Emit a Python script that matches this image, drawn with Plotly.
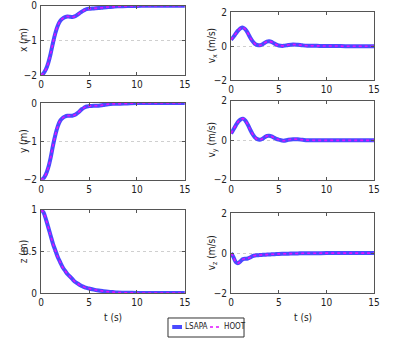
import plotly.graph_objects as go

# time samples (s)
t = [0, 0.25, 0.5, 0.75, 1.0, 1.25, 1.5, 1.75, 2.0, 2.25, 2.5, 2.75, 3.0, 3.25, 3.5, 3.75,
     4.0, 4.25, 4.5, 4.75, 5.0, 5.5, 6.0, 6.5, 7.0, 7.5, 8.0, 9.0, 10.0, 11.0, 12.0, 13.0, 14.0, 15.0]

pos_x = [-2.0, -1.95, -1.84, -1.65, -1.38, -1.06, -0.78, -0.57, -0.44, -0.37, -0.33, -0.31, -0.32, -0.33,
         -0.31, -0.27, -0.22, -0.17, -0.13, -0.10, -0.09, -0.08, -0.07, -0.05, -0.04, -0.03, -0.02,
         -0.01, -0.01, 0.0, 0.0, 0.0, 0.0, 0.0]
pos_y = [-2.0, -1.96, -1.86, -1.68, -1.42, -1.10, -0.82, -0.60, -0.46, -0.39, -0.35, -0.33, -0.33, -0.33,
         -0.31, -0.27, -0.22, -0.16, -0.12, -0.09, -0.08, -0.07, -0.07, -0.05, -0.03, -0.02, -0.02,
         -0.01, 0.0, 0.0, 0.0, 0.0, 0.0, 0.0]
pos_z = [1.0, 0.97, 0.89, 0.79, 0.69, 0.59, 0.51, 0.43, 0.37, 0.31, 0.27, 0.23, 0.20, 0.17, 0.14,
         0.12, 0.10, 0.085, 0.072, 0.062, 0.055, 0.042, 0.032, 0.024, 0.017, 0.012, 0.008, 0.004,
         0.002, 0.0, 0.0, 0.0, 0.0, 0.0]
vel_x = [0.38, 0.55, 0.75, 0.93, 1.06, 1.1, 1.0, 0.78, 0.52, 0.30, 0.14, 0.07, 0.05, 0.10, 0.19,
         0.27, 0.29, 0.25, 0.17, 0.09, 0.04, 0.02, 0.07, 0.10, 0.08, 0.05, 0.03, 0.02, 0.01, 0.01,
         0.0, 0.0, 0.0, 0.0]
vel_y = [0.35, 0.55, 0.76, 0.95, 1.06, 1.1, 1.0, 0.8, 0.55, 0.32, 0.15, 0.06, 0.03, 0.07, 0.15,
         0.22, 0.23, 0.2, 0.14, 0.08, 0.04, -0.02, 0.03, 0.06, 0.05, 0.03, 0.01, 0.0, 0.0, 0.0,
         0.0, 0.0, 0.0, 0.0]
vel_z = [0.0, -0.2, -0.45, -0.5, -0.4, -0.3, -0.28, -0.27, -0.22, -0.15, -0.12, -0.11, -0.10, -0.09,
         -0.08, -0.075, -0.07, -0.06, -0.055, -0.05, -0.04, -0.035, -0.03, -0.02, -0.015, -0.01,
         -0.01, -0.005, 0.0, 0.0, 0.0, 0.0, 0.0, 0.0]

series_names = ["LSAPA", "HOOT"]

panels = [
    # series, ylabel, yrange, ticks, x domain, y domain
    (pos_x, "x (m)", [-2, 0], [-2, -1, 0], [0.104, 0.468], [0.788, 0.984]),
    (vel_x, "v<sub>x</sub> (m/s)", [-2, 2], [-2, 0, 2], [0.585, 0.947], [0.774, 0.965]),
    (pos_y, "y (m)", [-2, 0], [-2, -1, 0], [0.104, 0.468], [0.492, 0.709]),
    (vel_y, "v<sub>y</sub> (m/s)", [-2, 2], [-2, 0, 2], [0.585, 0.947], [0.492, 0.715]),
    (pos_z, "z (m)", [0, 1], [0, 0.5, 1], [0.104, 0.468], [0.172, 0.407]),
    (vel_z, "v<sub>z</sub> (m/s)", [-2, 2], [-2, 0, 2], [0.585, 0.947], [0.172, 0.398]),
]

FONT = "Liberation Sans Narrow, DejaVu Sans Condensed, Arial Narrow, sans-serif"
BLUE = "#4a4aff"
MAGENTA = "#e010ff"
fig = go.Figure()
layout = {}

for i, (vals, label, yr, yt, xd, yd) in enumerate(panels):
    n = i + 1
    xa = "x" if n == 1 else f"x{n}"
    ya = "y" if n == 1 else f"y{n}"
    fig.add_trace(go.Scatter(x=t, y=vals, xaxis=xa, yaxis=ya, mode="lines",
                             line=dict(color=BLUE, width=4, shape="spline"),
                             name=series_names[0], showlegend=False))
    fig.add_trace(go.Scatter(x=t, y=vals, xaxis=xa, yaxis=ya, mode="lines",
                             line=dict(color=MAGENTA, width=1.6, dash="dot", shape="spline"),
                             name=series_names[1], showlegend=False))
    common = dict(showline=True, linecolor="#555", linewidth=1, mirror="ticks",
                  ticks="inside", ticklen=3, tickcolor="#555", zeroline=False,
                  automargin=False, ticklabeloverflow="allow",
                  tickfont=dict(size=10, family=FONT, color="#222"))
    layout["xaxis" if n == 1 else f"xaxis{n}"] = dict(
        domain=xd, anchor=ya, range=[0, 15], tickvals=[0, 5, 10, 15],
        showgrid=False, **common)
    layout["yaxis" if n == 1 else f"yaxis{n}"] = dict(
        domain=yd, anchor=xa, range=yr, tickvals=yt, showgrid=True,
        gridcolor="#cfcfcf", griddash="dot", gridwidth=1, ticklabelstandoff=1, **common)
    fig.add_annotation(text=label, xref="paper", yref="paper",
                       x=0.06 if n % 2 else 0.537, y=(yd[0] + yd[1]) / 2,
                       xanchor="center", yanchor="middle", textangle=-90, showarrow=False,
                       font=dict(size=10, family=FONT, color="#222"))
    if n >= 5:
        fig.add_annotation(text="t (s)", xref="paper", yref="paper",
                           x=(xd[0] + xd[1]) / 2, y=0.103, xanchor="center",
                           yanchor="middle", showarrow=False,
                           font=dict(size=10, family=FONT, color="#222"))

# legend box drawn in paper space
fig.add_shape(type="rect", xref="paper", yref="paper", x0=0.4253, x1=0.6178, y0=0.048, y1=0.1017,
              line=dict(color="#333", width=1), fillcolor="white")
fig.add_shape(type="line", xref="paper", yref="paper", x0=0.436, x1=0.4608, y0=0.0763, y1=0.0763,
              line=dict(color=BLUE, width=4))
fig.add_shape(type="line", xref="paper", yref="paper", x0=0.5316, x1=0.5595, y0=0.0763, y1=0.0763,
              line=dict(color=MAGENTA, width=1.6, dash="dot"))
for name, lx in zip(series_names, [0.4633, 0.5608]):
    fig.add_annotation(text=name, xref="paper", yref="paper", x=lx, y=0.0763,
                       xanchor="left", yanchor="middle", showarrow=False,
                       font=dict(size=8, family=FONT, color="#222"))

fig.update_layout(
    width=395, height=354, margin=dict(l=0, r=0, t=0, b=0, autoexpand=False),
    paper_bgcolor="white", plot_bgcolor="white", showlegend=False,
    **layout,
)

fig.write_html("out.html", config={"displayModeBar": False},
               post_script="document.body.style.margin='0';")
